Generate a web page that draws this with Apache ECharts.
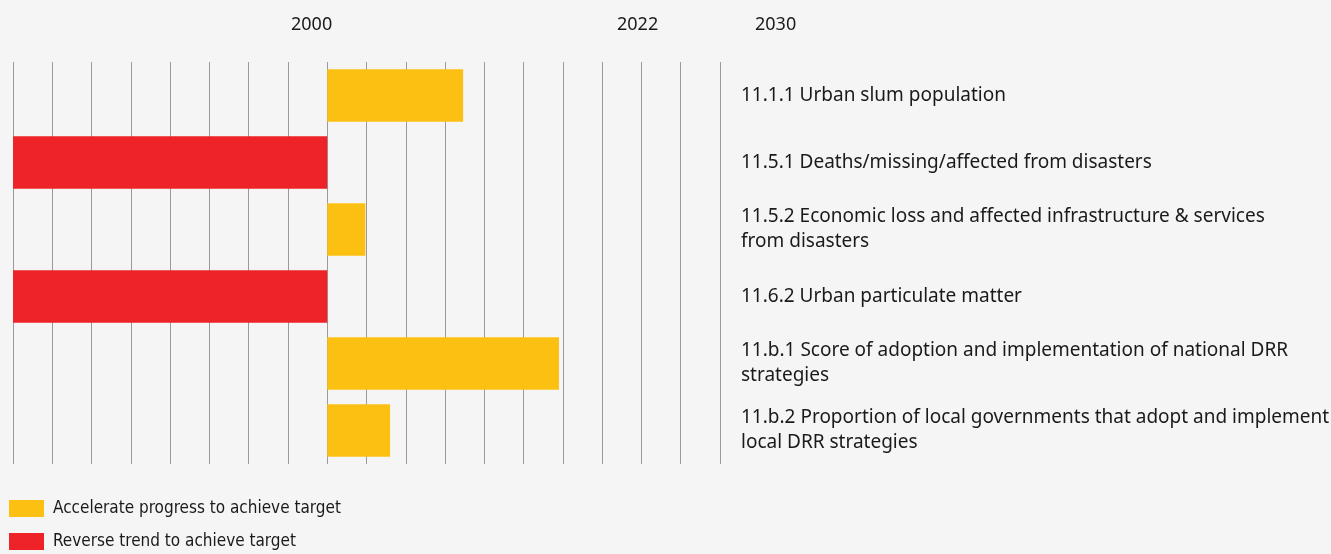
<!DOCTYPE html>
<html><head><meta charset="utf-8">
<script src="https://cdn.jsdelivr.net/npm/echarts@6/dist/echarts.min.js"></script>
<style>html,body{margin:0;padding:0;background:#f5f5f5;}#c{width:1331px;height:554px;}</style>
</head><body><div id="c"></div>
<script>
const categories = [
  '11.1.1 Urban slum population',
  '11.5.1 Deaths/missing/affected from disasters',
  '11.5.2 Economic loss and affected infrastructure & services\nfrom disasters',
  '11.6.2 Urban particulate matter',
  '11.b.1 Score of adoption and implementation of national DRR\nstrategies',
  '11.b.2 Proportion of local governments that adopt and implement\nlocal DRR strategies'
];
const accelerate = [3.46, '-', 0.97, '-', 5.9, 1.6];
const reverse = ['-', -8, '-', -8, '-', '-'];
const yearLabels = ['2000', '2022', '2030'];
const seriesNames = ['Accelerate progress to achieve target', 'Reverse trend to achieve target'];

const legendText = {fontFamily: 'Liberation Sans Narrow, DejaVu Sans Condensed', fontSize: 17, color: '#1a1a1a', padding: [0, 0, 0, 4]};
const yearFont = '18px "Noto Sans"';

const chart = echarts.init(document.getElementById('c'), null, {renderer: 'canvas'});
chart.setOption({
  backgroundColor: '#f5f5f5',
  animation: false,
  grid: {left: 13, right: 611, top: 62, bottom: 90, containLabel: false, outerBoundsMode: 'none'},
  xAxis: {
    type: 'value', min: -8, max: 10, interval: 1,
    axisLabel: {show: false}, axisLine: {show: false}, axisTick: {show: false},
    splitLine: {show: true, lineStyle: {color: '#9a9a9a', width: 1}}
  },
  yAxis: {
    type: 'category', data: categories, inverse: true, position: 'right',
    axisLine: {show: false}, axisTick: {show: false},
    axisLabel: {
      margin: 21, align: 'left', color: '#1a1a1a',
      fontFamily: 'Noto Sans', fontSize: 19, lineHeight: 25
    }
  },
  legend: [
    {left: 9, top: 500, padding: 0, itemWidth: 35, itemHeight: 17, icon: 'rect', itemGap: 10,
     textStyle: legendText, data: [seriesNames[0]]},
    {left: 9, top: 533, padding: 0, itemWidth: 35, itemHeight: 17, icon: 'rect', itemGap: 10,
     textStyle: legendText, data: [seriesNames[1]]}
  ],
  graphic: [
    {type: 'text', left: 291, top: 16, style: {text: yearLabels[0], font: yearFont, fill: '#1a1a1a'}},
    {type: 'text', left: 617, top: 16, style: {text: yearLabels[1], font: yearFont, fill: '#1a1a1a'}},
    {type: 'text', left: 755, top: 16, style: {text: yearLabels[2], font: yearFont, fill: '#1a1a1a'}}
  ],
  series: [
    {name: seriesNames[0], type: 'bar', stack: 's', data: accelerate,
     barWidth: '78%', itemStyle: {color: '#fcc012'}},
    {name: seriesNames[1], type: 'bar', stack: 's', data: reverse,
     barWidth: '78%', itemStyle: {color: '#ed2327'}}
  ]
});
</script></body></html>
